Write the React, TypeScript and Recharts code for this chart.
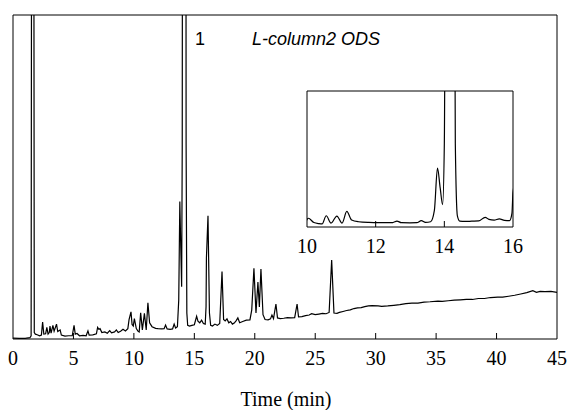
import { LineChart, Line, XAxis, YAxis, ReferenceArea } from "recharts";

// retention time (min) and detector signal (arbitrary units, axis top = 100)
const times = [
  0, 0.5, 1.0, 1.4, 1.5, 1.58, 1.68, 1.76, 1.85, 2.0, 2.2, 2.35, 2.45, 2.55, 2.7, 2.8, 2.9, 3.0, 3.06, 3.15,
  3.3, 3.4, 3.6, 3.7, 3.9, 4.0, 4.3, 4.6, 4.9, 5.05, 5.15, 5.3, 5.5, 5.8, 6.05, 6.2, 6.3, 6.6, 6.9, 7.0,
  7.1, 7.2, 7.35, 7.6, 7.8, 8.0, 8.15, 8.4, 8.55, 8.7, 8.9, 9.1, 9.3, 9.5, 9.6, 9.76, 9.85, 9.95, 10.04, 10.2,
  10.35, 10.44, 10.56, 10.7, 10.87, 11.02, 11.16, 11.3, 11.5, 11.8, 12.0, 12.3, 12.5, 12.62, 12.75, 13.0, 13.2, 13.33, 13.45, 13.6,
  13.71, 13.8, 13.88, 13.95, 14.0, 14.05, 14.28, 14.32, 14.38, 14.45, 14.6, 14.8, 15.0, 15.19, 15.3, 15.45, 15.6, 15.75, 15.9, 15.97,
  16.0, 16.13, 16.25, 16.35, 16.5, 16.7, 16.9, 17.1, 17.29, 17.42, 17.55, 17.7, 17.85, 18.0, 18.15, 18.3, 18.45, 18.6, 18.75, 19.0,
  19.3, 19.6, 19.75, 19.93, 20.1, 20.26, 20.38, 20.51, 20.68, 20.85, 21.1, 21.3, 21.42, 21.55, 21.75, 21.88, 22.1, 22.4, 22.7, 23.0,
  23.3, 23.5, 23.62, 23.9, 24.2, 24.5, 24.7, 25.0, 25.3, 25.6, 25.9, 26.15, 26.36, 26.55, 26.8, 27.0, 27.3, 27.6, 27.9, 28.2,
  28.5, 28.8, 29.1, 29.4, 29.7, 30.2, 30.5, 31.0, 31.5, 32.0, 32.5, 33.0, 33.5, 34.0, 34.5, 35.15, 35.5, 36.0, 36.5, 37.0,
  37.5, 38.0, 38.5, 39.0, 39.5, 40.1, 40.5, 41.0, 41.5, 42.0, 42.5, 43.0, 43.3, 43.6, 44.0, 44.5, 45.0,
];

const signal = [
  0.3, 0.2, 0.2, 0.4, 1.0, 300, 300, 2.0, 1.5, 1.3, 1.0, 1.2, 5.2, 1.5, 1.6, 3.6, 1.5, 2.0, 4.0, 1.8,
  4.2, 2.4, 4.6, 2.3, 2.8, 1.2, 0.9, 1.0, 1.0, 4.2, 1.5, 1.7, 1.0, 1.1, 1.0, 2.5, 1.2, 1.3, 1.6, 3.6,
  3.0, 3.2, 2.0, 2.2, 1.8, 2.6, 1.9, 2.2, 2.8, 2.0, 2.4, 3.0, 2.5, 3.2, 6.0, 8.4, 4.5, 4.0, 6.3, 3.2,
  2.4, 2.2, 8.1, 2.8, 7.9, 2.8, 11.2, 5.0, 3.8, 3.3, 3.2, 3.1, 3.2, 4.3, 3.1, 3.0, 3.1, 4.6, 3.4, 3.8,
  12, 42.4, 28, 16.1, 60, 300, 300, 60, 8.0, 4.2, 4.0, 4.2, 4.4, 7.0, 5.5, 5.0, 5.8, 4.8, 4.6, 10,
  25, 38, 8.0, 4.2, 4.0, 4.6, 4.2, 4.8, 20.8, 6.0, 5.6, 6.2, 5.0, 5.4, 4.6, 4.9, 5.6, 6.5, 5.0, 5.4,
  5.8, 5.9, 9.0, 21.8, 8.0, 17.6, 9.9, 21.6, 7.5, 6.0, 5.9, 6.2, 7.4, 6.3, 10.8, 6.5, 6.3, 6.4, 6.6, 6.5,
  6.6, 10.8, 6.8, 6.9, 7.2, 7.4, 7.8, 7.5, 7.7, 7.9, 7.8, 8.2, 24.4, 8.0, 7.9, 8.2, 8.5, 8.8, 9.0, 9.4,
  9.6, 9.7, 10.0, 10.2, 10.3, 10.2, 10.1, 10.2, 10.4, 10.6, 10.9, 11.1, 11.1, 11.4, 11.5, 11.7, 11.6, 11.8, 12.0, 12.1,
  12.2, 12.2, 12.5, 12.5, 12.8, 12.9, 12.9, 13.2, 13.5, 13.9, 14.3, 14.9, 14.4, 14.7, 14.6, 14.7, 14.4,
];

const mainTicks = [0, 5, 10, 15, 20, 25, 30, 35, 40, 45];
const insetTicks = [10, 12, 14, 16];

const trace = times.map((t, i) => ({ t, v: signal[i] }));
const insetTrace = trace.filter((d) => d.t >= 9.8 && d.t <= 16.2);

const serif = "'Liberation Serif', 'Times New Roman', serif";
const sans = "'Liberation Sans', Arial, sans-serif";

function makeTick(first: number, last: number) {
  return function Tick(props: any) {
    const { x, y, payload } = props;
    const v = payload.value;
    return (
      <g>
        {v !== first && v !== last && <line x1={x} x2={x} y1={y} y2={y - 6} stroke="#000" />}
        <text x={x} y={y + 26} textAnchor="middle" fontFamily={serif} fontSize={20} fill="#000">
          {v}
        </text>
      </g>
    );
  };
}

const MainTick = makeTick(0, 45);
const InsetTick = makeTick(10, 16);

export default function App() {
  return (
    <div style={{ position: "absolute", left: 0, top: 0, width: 570, height: 410, background: "#fff" }}>
      <LineChart width={570} height={410} data={trace} margin={{ top: 15, right: 13, left: 13, bottom: 41 }}>
        <XAxis
          dataKey="t"
          type="number"
          domain={[0, 45]}
          ticks={mainTicks}
          allowDataOverflow
          axisLine={false}
          tickLine={false}
          tickSize={0}
          tickMargin={0}
          height={30}
          tick={MainTick}
        />
        <YAxis hide domain={[0, 100]} allowDataOverflow />
        <ReferenceArea x1={0} x2={45} y1={0} y2={100} fill="none" stroke="#000" strokeWidth={1} />
        <Line type="linear" dataKey="v" stroke="#000" strokeWidth={1.2} dot={false} isAnimationActive={false} />
      </LineChart>

      <div style={{ position: "absolute", left: 297, top: 81 }}>
        <LineChart width={226} height={186} data={insetTrace} margin={{ top: 10, right: 10, left: 10, bottom: 10 }}>
          <XAxis
            dataKey="t"
            type="number"
            domain={[10, 16]}
            ticks={insetTicks}
            allowDataOverflow
            axisLine={false}
            tickLine={false}
            tickSize={0}
            tickMargin={0}
            height={30}
            tick={InsetTick}
          />
          <YAxis hide domain={[0, 98]} allowDataOverflow />
          <ReferenceArea x1={10} x2={16} y1={0} y2={98} fill="#fff" fillOpacity={1} stroke="#000" strokeWidth={1} />
          <Line type="monotone" dataKey="v" stroke="#000" strokeWidth={1.2} dot={false} isAnimationActive={false} />
        </LineChart>
      </div>

      <svg width={570} height={410} style={{ position: "absolute", left: 0, top: 0, pointerEvents: "none" }}>
        <text x={195} y={45} fontFamily={sans} fontSize={18} fill="#000">
          1
        </text>
        <text x={252} y={45} fontFamily={sans} fontSize={18} fontStyle="italic" fill="#000">
          L-column2 ODS
        </text>
        <text x={286} y={406} textAnchor="middle" fontFamily={serif} fontSize={20} fill="#000">
          Time (min)
        </text>
      </svg>
    </div>
  );
}
